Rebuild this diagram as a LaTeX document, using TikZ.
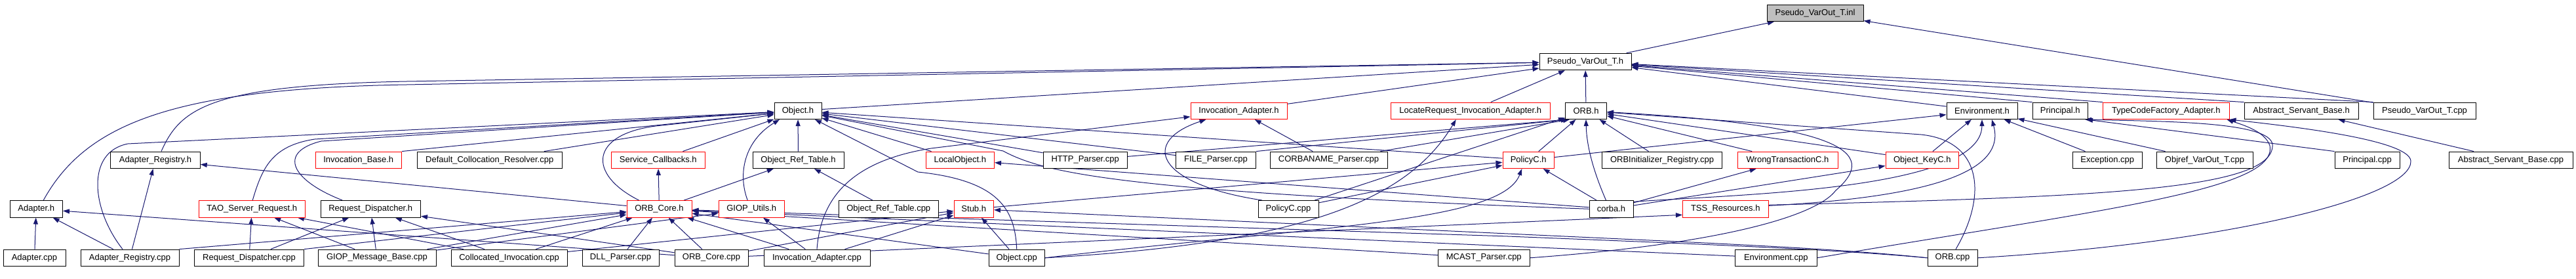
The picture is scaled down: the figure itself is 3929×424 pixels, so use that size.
\documentclass[tikz,border=0pt]{standalone}
\usepackage{fontspec}
\setmainfont{Liberation Sans}
\usetikzlibrary{arrows.meta,backgrounds}
\definecolor{edgec}{RGB}{25,25,112}
\definecolor{inlgray}{RGB}{191,191,191}
\tikzset{
 nb/.style={draw=black, fill=white, line width=1pt, minimum height=25.5pt, inner sep=0pt, minimum width=#1, font=\fontsize{13}{15}\selectfont},
 rb/.style={nb=#1, draw=red},
 dep/.style={draw=edgec, line width=1pt, -{Triangle[length=10pt,width=7pt]}},
}
\begin{document}
\begin{tikzpicture}[x=1pt,y=-1pt]
\useasboundingbox (0,0) rectangle (3929,424);
% row 0 and 1
\node[nb=147pt, fill=inlgray] (inl) at (2768.5,19.8) {Pseudo\_VarOut\_T.inl};
\node[nb=140pt] (PVh) at (2418,94) {Pseudo\_VarOut\_T.h};
% row 2
\node[nb=72pt] (Objecth) at (1217,168.8) {Object.h};
\node[rb=147pt] (InvAdh) at (1889.5,168.8) {Invocation\_Adapter.h};
\node[rb=242.5pt] (LocReq) at (2242.75,168.8) {LocateRequest\_Invocation\_Adapter.h};
\node[nb=63pt] (ORBh) at (2419,168.8) {ORB.h};
\node[nb=108pt] (Envh) at (3023,168.8) {Environment.h};
\node[nb=84.5pt] (Principalh) at (3142.25,168.8) {Principal.h};
\node[rb=192.5pt] (TCFAh) at (3303.75,168.8) {TypeCodeFactory\_Adapter.h};
\node[nb=174pt] (ASBh) at (3510,168.8) {Abstract\_Servant\_Base.h};
\node[nb=156pt] (PVcpp) at (3698,168.8) {Pseudo\_VarOut\_T.cpp};
% row 3
\node[nb=136.5pt] (AdRegh) at (237,243.8) {Adapter\_Registry.h};
\node[rb=131.5pt] (InvBaseh) at (546.75,243.8) {Invocation\_Base.h};
\node[nb=221.5pt] (DCRcpp) at (746.75,243.8) {Default\_Collocation\_Resolver.cpp};
\node[rb=142.5pt] (SCh) at (1003.75,243.8) {Service\_Callbacks.h};
\node[nb=139pt] (ORTh) at (1217.5,243.8) {Object\_Ref\_Table.h};
\node[rb=104.5pt] (LOh) at (1464.25,243.8) {LocalObject.h};
\node[nb=128.5pt] (HTTPcpp) at (1655.25,243.8) {HTTP\_Parser.cpp};
\node[nb=122pt] (FILEcpp) at (1854.5,243.8) {FILE\_Parser.cpp};
\node[nb=179pt] (CORBANAMEcpp) at (2026.5,243.8) {CORBANAME\_Parser.cpp};
\node[rb=78.5pt] (PolicyCh) at (2331.25,243.8) {PolicyC.h};
\node[nb=183pt] (ORBIRcpp) at (2535,243.8) {ORBInitializer\_Registry.cpp};
\node[rb=153pt] (WTCh) at (2726.5,243.8) {WrongTransactionC.h};
\node[rb=111.5pt] (OKCh) at (2931.75,243.8) {Object\_KeyC.h};
\node[nb=105.5pt] (Exccpp) at (3214.25,243.8) {Exception.cpp};
\node[nb=147pt] (OVOTcpp) at (3362.5,243.8) {Objref\_VarOut\_T.cpp};
\node[nb=99pt] (Principalcpp) at (3610.5,243.8) {Principal.cpp};
\node[nb=189pt] (ASBcpp) at (3829.5,243.8) {Abstract\_Servant\_Base.cpp};
% row 4
\node[nb=80.5pt] (Adapterh) at (55.25,318.3) {Adapter.h};
\node[rb=162.5pt] (TSRh) at (384.25,318.3) {TAO\_Server\_Request.h};
\node[nb=152.5pt] (RDh) at (565.25,318.3) {Request\_Dispatcher.h};
\node[rb=99pt] (ORBCoreh) at (1005.5,318.3) {ORB\_Core.h};
\node[rb=100.5pt] (GIOPUh) at (1146.25,318.3) {GIOP\_Utils.h};
\node[nb=152.5pt] (ORTcpp) at (1355.25,318.3) {Object\_Ref\_Table.cpp};
\node[rb=60.5pt] (Stubh) at (1485.25,318.3) {Stub.h};
\node[nb=92pt] (PolicyCcpp) at (1965,318.3) {PolicyC.cpp};
\node[nb=67pt] (corbah) at (2457.5,318.3) {corba.h};
\node[rb=130.5pt] (TSSh) at (2631.75,318.3) {TSS\_Resources.h};
% row 5
\node[nb=95pt] (Adaptercpp) at (52.5,392.8) {Adapter.cpp};
\node[nb=150pt] (AdRegcpp) at (198,392.8) {Adapter\_Registry.cpp};
\node[nb=167pt] (RDcpp) at (380,392.8) {Request\_Dispatcher.cpp};
\node[nb=180pt] (GIOPMBcpp) at (575,392.8) {GIOP\_Message\_Base.cpp};
\node[nb=177pt] (CollInvcpp) at (776.5,392.8) {Collocated\_Invocation.cpp};
\node[nb=117pt] (DLLcpp) at (946.5,392.8) {DLL\_Parser.cpp};
\node[nb=112pt] (ORBCorecpp) at (1085,392.8) {ORB\_Core.cpp};
\node[nb=162pt] (InvAdcpp) at (1246,392.8) {Invocation\_Adapter.cpp};
\node[nb=85.5pt] (Objectcpp) at (1550.75,392.8) {Object.cpp};
\node[nb=139.5pt] (MCASTcpp) at (2263.25,392.8) {MCAST\_Parser.cpp};
\node[nb=124.5pt] (Envcpp) at (2708.75,392.8) {Environment.cpp};
\node[nb=76pt] (ORBcpp) at (2978,392.8) {ORB.cpp};

\begin{pgfonlayer}{background}
\fill[white] (0,0) rectangle (3929,424);
% into inl
\draw[dep] (PVh) -- (inl);
\draw[dep] (PVcpp) -- (inl);
% into Pseudo_VarOut_T.h
\draw[dep] (ORBh) -- (PVh);
\draw[dep] (LocReq) -- (PVh);
\draw[dep] (InvAdh) -- (PVh);
\draw[dep] (Objecth) -- (PVh);
\draw[dep] ([xshift=9pt]AdRegh.north) .. controls (275,165) and (320,130) .. (620,124) -- (PVh);
\draw[dep] ([xshift=11pt]Adapterh.north) .. controls (130,190) and (260,135) .. (620,129) -- (PVh);
\draw[dep] (Envh) -- (PVh);
\draw[dep] (Principalh.north west) -- (PVh);
\draw[dep] (TCFAh.north west) -- (PVh);
\draw[dep] (ASBh.north west) -- (PVh);
\draw[dep] (PVcpp.north west) -- (PVh);
% into Object.h
\draw[dep] (ORTh) -- (Objecth);
\draw[dep] ([xshift=-11pt]AdRegcpp.north) .. controls (140,320) and (130,232) .. (195,219) -- (Objecth);
\draw[dep] (SCh) -- (Objecth);
\draw[dep] ([xshift=-6pt]GIOPUh.north) .. controls (1125,265) and (1135,215) .. ([xshift=-28pt]Objecth.south);
\draw[dep] ([xshift=-31pt]ORBCoreh.north) .. controls (895,265) and (900,205) .. (1000,192) -- (Objecth);
\draw[dep] (LOh) -- (Objecth);
\draw[dep] (Objectcpp.north) .. controls (1548,320) and (1525,275) .. (1400,262) -- (Objecth);
\draw[dep] (HTTPcpp) -- (Objecth);
\draw[dep] (FILEcpp) -- (Objecth);
\draw[dep] (InvBaseh.north east) -- (Objecth);
\draw[dep] (DCRcpp) -- (Objecth);
\draw[dep] ([xshift=1pt]TSRh.north) .. controls (400,255) and (415,222) .. (480,212) -- (Objecth);
\draw[dep] ([xshift=-43pt]RDh.north) .. controls (445,275) and (422,232) .. (490,215) -- (Objecth);
\draw[dep] (PolicyCh) -- (Objecth);
\draw[dep] (corbah.west) .. controls (1700,292) and (1590,262) .. (1530,230) -- (Objecth);
% into ORB.h
\draw[dep] (PolicyCh) -- (ORBh);
\draw[dep] ([xshift=-8pt]corbah.north) .. controls (2432,265) and (2420,225) .. (ORBh.south);
\draw[dep] (ORBIRcpp) -- (ORBh);
\draw[dep] (WTCh) -- (ORBh);
\draw[dep] (HTTPcpp) -- ([xshift=-28pt]ORBh.south);
\draw[dep] (FILEcpp.north east) -- ([xshift=-28pt]ORBh.south);
\draw[dep] (CORBANAMEcpp) -- ([xshift=-25pt]ORBh.south);
\draw[dep] (PolicyCcpp) -- (ORBh);
\draw[dep] (OKCh) -- (ORBh);
\draw[dep] ([xshift=5pt]ORBcpp.north) .. controls (3030,300) and (3025,215) .. (2930,205) -- (ORBh);
\draw[dep] (MCASTcpp.east) .. controls (2620,372) and (2770,330) .. (2800,290) .. controls (2870,230) and (2800,190) .. (ORBh);
% into Invocation_Adapter.h
\draw[dep] (InvAdcpp.north) .. controls (1252,300) and (1300,245) .. (1420,226) -- (InvAdh);
\draw[dep] ([xshift=-40pt]PolicyCcpp.north) .. controls (1760,280) and (1740,215) .. ([xshift=-50pt]InvAdh.south);
\draw[dep] (CORBANAMEcpp) -- (InvAdh);
% into LocateRequest_Invocation_Adapter.h
\draw[dep] (Objectcpp.east) .. controls (2000,370) and (2150,300) .. ([xshift=-22pt]LocReq.south);
% into Object_Ref_Table.h, Service_Callbacks.h
\draw[dep] (ORBCoreh) -- (ORTh);
\draw[dep] (ORTcpp) -- (ORTh);
\draw[dep] (ORBCoreh) -- (SCh);
% into Adapter_Registry.h, Adapter.h
\draw[dep] (AdRegcpp) -- (AdRegh);
\draw[dep] (ORBCoreh) -- (AdRegh);
\draw[dep] (Adaptercpp) -- (Adapterh);
\draw[dep] (AdRegcpp) -- (Adapterh);
\draw[dep] (ORBCorecpp) -- (Adapterh);
% into TAO_Server_Request.h, Request_Dispatcher.h
\draw[dep] (RDcpp) -- (TSRh);
\draw[dep] (GIOPMBcpp) -- (TSRh);
\draw[dep] (CollInvcpp) -- (TSRh);
\draw[dep] (RDcpp) -- (RDh);
\draw[dep] (GIOPMBcpp) -- (RDh);
\draw[dep] (CollInvcpp) -- (RDh);
\draw[dep] (ORBCorecpp) -- (RDh);
% into ORB_Core.h
\draw[dep] (GIOPMBcpp) -- (ORBCoreh);
\draw[dep] (AdRegcpp.north east) -- (ORBCoreh);
\draw[dep] (RDcpp.north east) -- (ORBCoreh);
\draw[dep] (CollInvcpp) -- (ORBCoreh);
\draw[dep] (DLLcpp) -- (ORBCoreh);
\draw[dep] (ORBCorecpp) -- (ORBCoreh);
\draw[dep] (InvAdcpp) -- (ORBCoreh);
\draw[dep] (Objectcpp) -- (ORBCoreh);
\draw[dep] (Envcpp) -- (ORBCoreh);
\draw[dep] (MCASTcpp) -- (ORBCoreh);
\draw[dep] (ORBcpp.west) .. controls (2800,380) and (2600,372) .. (2300,360) -- (ORBCoreh);
% into GIOP_Utils.h
\draw[dep] (InvAdcpp) -- (GIOPUh);
\draw[dep] (GIOPMBcpp) -- (GIOPUh);
% into Stub.h
\draw[dep] (Objectcpp) -- (Stubh);
\draw[dep] (InvAdcpp) -- (Stubh);
\draw[dep] (CollInvcpp) -- (Stubh);
\draw[dep] (ORBCorecpp) -- (Stubh);
\draw[dep] (ORBcpp.west) .. controls (2800,378) and (2600,370) .. (2300,356) -- (Stubh);
% into LocalObject.h, PolicyC.h
\draw[dep] (corbah) -- (LOh);
\draw[dep] (corbah) -- (PolicyCh);
\draw[dep] (PolicyCcpp) -- (PolicyCh);
\draw[dep] (Stubh) -- (PolicyCh);
\draw[dep] (Objectcpp.east) .. controls (2000,345) and (2290,340) .. ([xshift=-10pt]PolicyCh.south);
% into WrongTransactionC.h, Object_KeyC.h
\draw[dep] (corbah) -- (WTCh);
\draw[dep] (corbah) -- (OKCh);
% into Environment.h
\draw[dep] (OKCh) -- (Envh);
\draw[dep] (Exccpp) -- (Envh);
\draw[dep] (OVOTcpp) -- (Envh);
\draw[dep] (PolicyCh) -- (Envh);
\draw[dep] ([yshift=11pt]corbah.east) .. controls (2650,296) and (3022,290) .. (Envh.south);
\draw[dep] ([yshift=5pt]TSSh.east) .. controls (2950,300) and (3060,260) .. ([xshift=15pt]Envh.south);
% into Principal.h
\draw[dep] (Principalcpp.north west) -- ([xshift=-3pt]Principalh.south east);
\draw[dep] ([yshift=6pt]TSSh.east) .. controls (3200,300) and (3470,290) .. (3466,220) .. controls (3462,185) and (3300,185) .. ([xshift=-5pt]Principalh.south east);
% into TypeCodeFactory_Adapter.h
\draw[dep] (ORBcpp.east) .. controls (3400,370) and (3680,300) .. (3677,245) .. controls (3674,215) and (3520,195) .. (TCFAh.south east);
\draw[dep] (Envcpp.east) .. controls (3200,320) and (3475,290) .. (3462,222) .. controls (3455,200) and (3420,190) .. ([xshift=-4pt]TCFAh.south east);
% into Abstract_Servant_Base.h
\draw[dep] (ASBcpp) -- (ASBh);
% into TSS_Resources.h
\draw[dep] (ORBCorecpp) -- ([yshift=-9pt]TSSh.west);
\end{pgfonlayer}
\end{tikzpicture}
\end{document}
